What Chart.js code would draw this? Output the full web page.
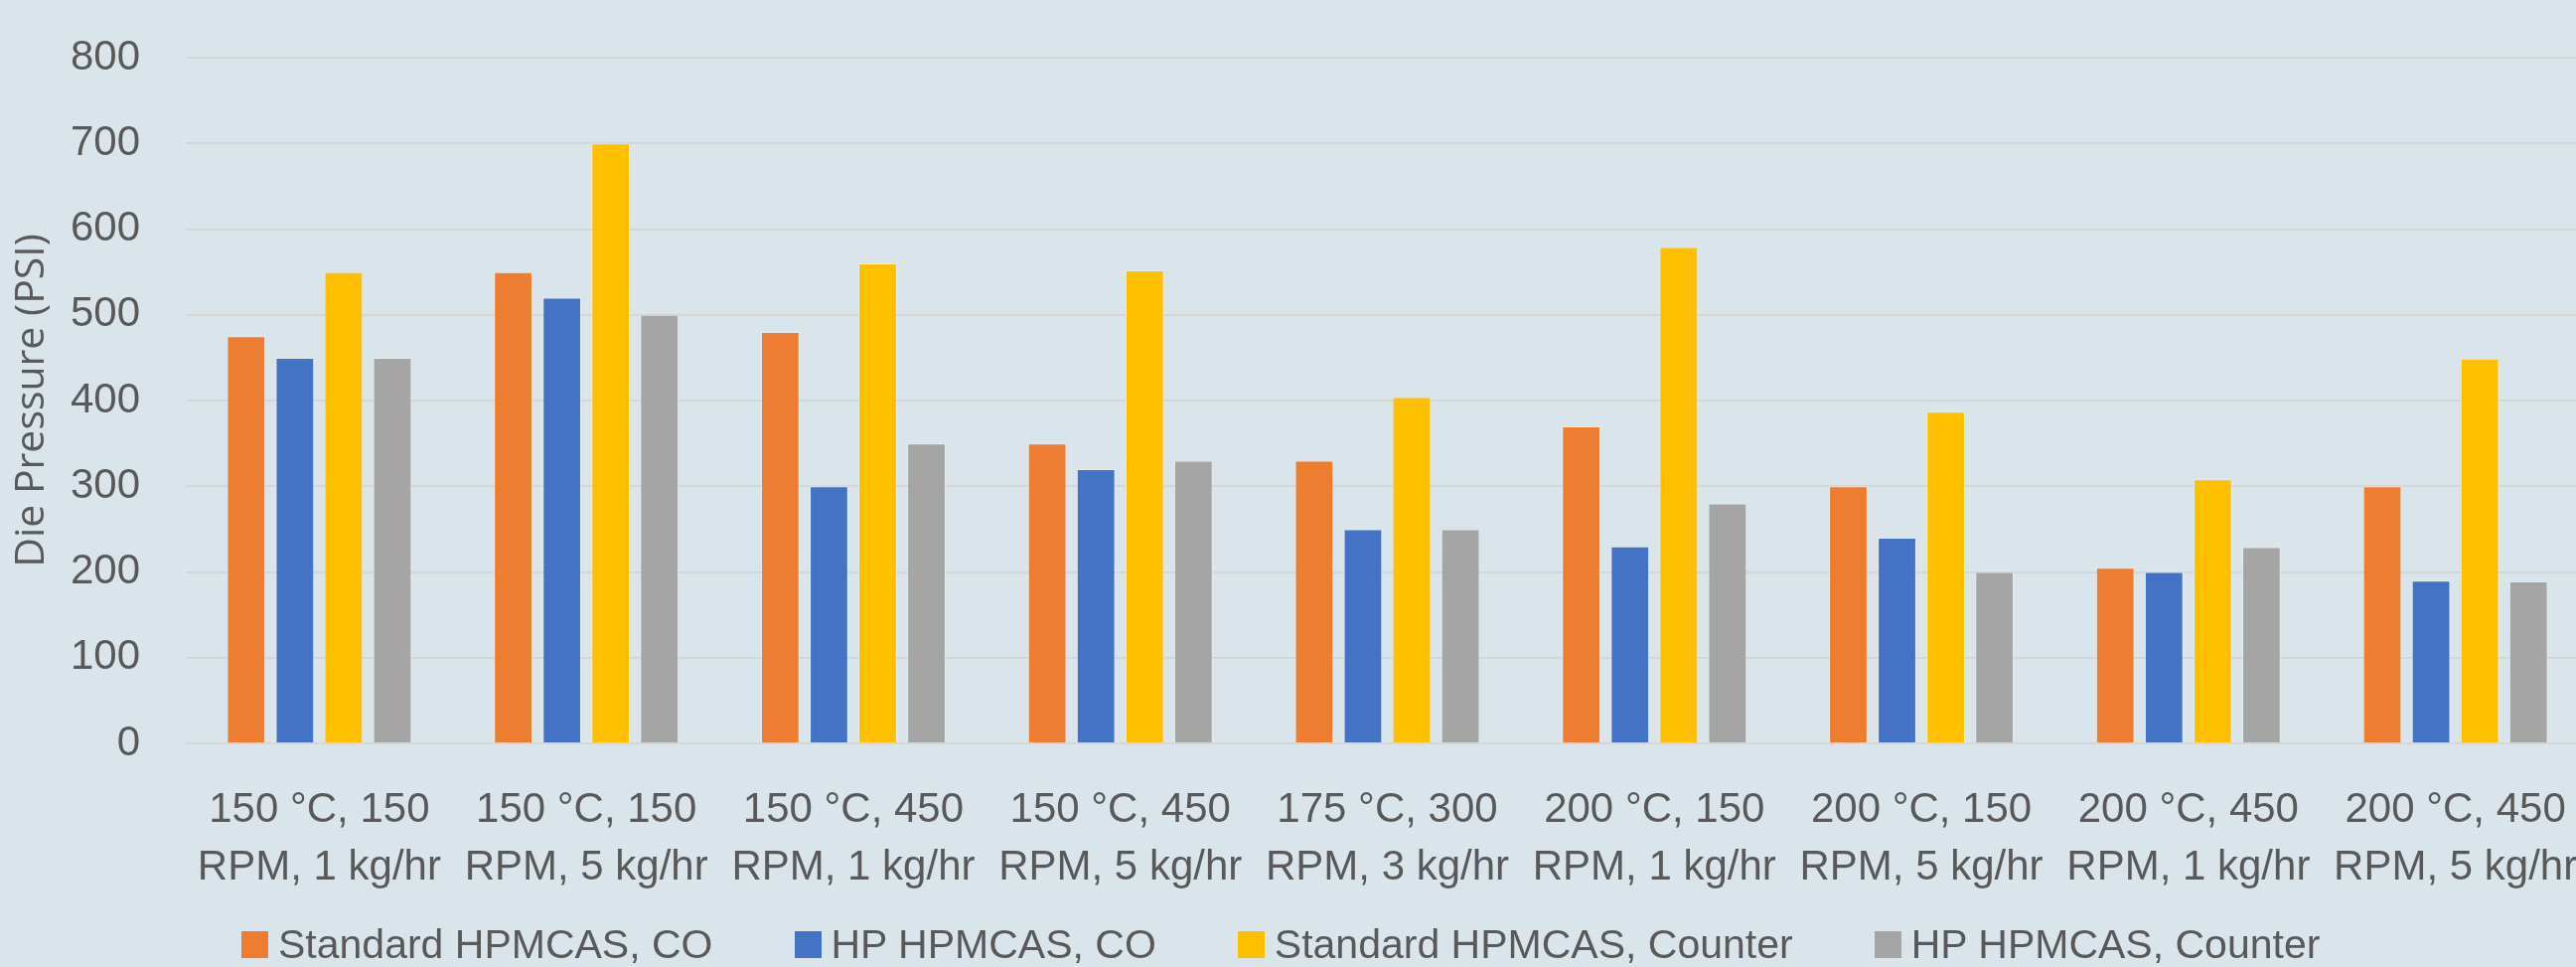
<!DOCTYPE html>
<html>
<head>
<meta charset="utf-8">
<script src="https://cdn.jsdelivr.net/npm/chart.js@4/dist/chart.umd.min.js"></script>
<style>
  html, body { margin: 0; padding: 0; overflow: hidden; background: #d9e5eb; }
  #wrap { position: relative; width: 2606px; height: 973px; }
  #legend {
    position: absolute; left: 243px; top: 930px; height: 41px;
    display: flex; align-items: center; gap: 82px;
    font: 41px "Liberation Sans", sans-serif; color: #595959; white-space: nowrap;
  }
  #legend .item { display: flex; align-items: center; height: 41px; line-height: 41px; }
  #legend .swatch { width: 27px; height: 27px; margin-right: 10px; }
</style>
</head>
<body>
<div id="wrap">
  <canvas id="pressureChart"></canvas>
  <div id="legend"></div>
</div>
<script>
const conditions = [
  ['150 °C, 150', 'RPM, 1 kg/hr'],
  ['150 °C, 150', 'RPM, 5 kg/hr'],
  ['150 °C, 450', 'RPM, 1 kg/hr'],
  ['150 °C, 450', 'RPM, 5 kg/hr'],
  ['175 °C, 300', 'RPM, 3 kg/hr'],
  ['200 °C, 150', 'RPM, 1 kg/hr'],
  ['200 °C, 150', 'RPM, 5 kg/hr'],
  ['200 °C, 450', 'RPM, 1 kg/hr'],
  ['200 °C, 450', 'RPM, 5 kg/hr']
];

const stdCO      = [475, 550, 480, 350, 330, 370, 300, 205, 300];
const hpCO       = [450, 520, 300, 320, 250, 230, 240, 200, 190];
const stdCounter = [550, 700, 560, 552, 404, 579, 387, 308, 449];
const hpCounter  = [450, 500, 350, 330, 250, 280, 200, 229, 189];

const yTicks = [0, 100, 200, 300, 400, 500, 600, 700, 800];

const textColor = '#595959';
const gridColor = '#d6d6d6';

// legend built as html so the item spacing can follow the original
const htmlLegend = {
  id: 'htmlLegend',
  afterUpdate(chart) {
    const box = document.getElementById('legend');
    box.innerHTML = '';
    chart.options.plugins.legend.labels.generateLabels(chart).forEach(item => {
      const li = document.createElement('div');
      li.className = 'item';
      const sw = document.createElement('span');
      sw.className = 'swatch';
      sw.style.background = item.fillStyle;
      const tx = document.createElement('span');
      tx.textContent = item.text;
      li.append(sw, tx);
      box.appendChild(li);
    });
  }
};

const ctx = document.getElementById('pressureChart').getContext('2d');
new Chart(ctx, {
  type: 'bar',
  data: {
    labels: conditions,
    datasets: [
      { label: 'Standard HPMCAS, CO', data: stdCO, backgroundColor: '#ed7d31' },
      { label: 'HP HPMCAS, CO', data: hpCO, backgroundColor: '#4472c4' },
      { label: 'Standard HPMCAS, Counter', data: stdCounter, backgroundColor: '#ffc000' },
      { label: 'HP HPMCAS, Counter', data: hpCounter, backgroundColor: '#a5a5a5' }
    ]
  },
  options: {
    responsive: true,
    maintainAspectRatio: false,
    animation: false,
    categoryPercentage: 0.73,
    barPercentage: 0.79,
    borderWidth: 1,
    borderColor: 'rgba(255,255,255,0.3)',
    layout: { padding: { top: 58, left: 0, right: 0, bottom: 74 } },
    plugins: {
      tooltip: { enabled: false },
      legend: { display: false }
    },
    scales: {
      x: {
        grid: { display: false, drawTicks: false },
        border: { display: true, color: gridColor, width: 2 },
        ticks: {
          color: textColor,
          font: { family: 'Liberation Sans', size: 42, lineHeight: 1.38 },
          padding: 38,
          maxRotation: 0,
          autoSkip: false
        },
        afterFit: s => { s.height = 151; s.paddingLeft = 0; s.paddingRight = 0; }
      },
      y: {
        min: 0,
        max: 800,
        afterBuildTicks: s => { s.ticks = yTicks.map(v => ({ value: v })); },
        grid: { color: gridColor, lineWidth: 2, drawTicks: false },
        border: { display: false },
        ticks: {
          color: textColor,
          font: { family: 'Liberation Sans', size: 42 },
          padding: 46
        },
        title: {
          display: true,
          text: 'Die Pressure (PSI)',
          color: textColor,
          font: { family: 'Open Sans', size: 41 },
          padding: { top: 8, bottom: 0 }
        },
        afterFit: s => { s.width = 187; s.paddingTop = 25; s.paddingBottom = 25; }
      }
    }
  },
  plugins: [htmlLegend]
});
</script>
</body>
</html>
